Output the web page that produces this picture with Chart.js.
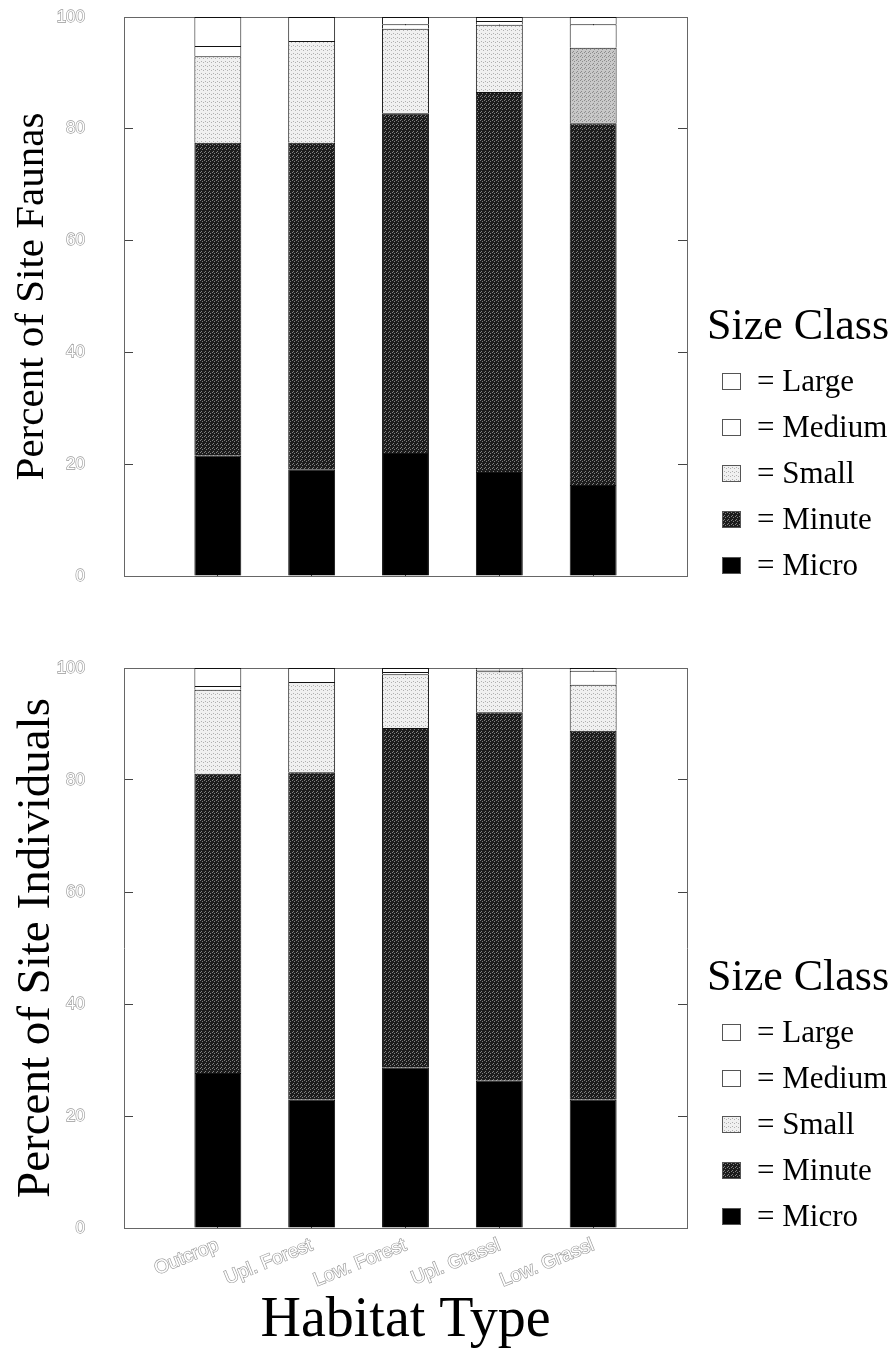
<!DOCTYPE html>
<html>
<head>
<meta charset="utf-8">
<script src="https://cdn.jsdelivr.net/npm/chart.js@4.4.0/dist/chart.umd.min.js"></script>
<style>
  html, body { margin: 0; padding: 0; background: #fff; }
  #page { position: relative; width: 896px; height: 1361px; overflow: hidden; }
  .wrap { position: absolute; left: 0; width: 896px; }
  .legend { position: absolute; left: 707px; font-family: 'Liberation Serif', 'Times New Roman', serif; color: #000; }
  .legend .title { font-size: 44px; line-height: 50px; height: 50px; margin-bottom: 8px; white-space: nowrap; }
  .legend .item { display: flex; align-items: center; height: 46px; margin-left: 15px; font-size: 31px; white-space: nowrap; }
  .legend .box { width: 19px; height: 17px; border: 1px solid #555; box-sizing: border-box; margin-right: 16px; }
</style>
</head>
<body>
<div id="page">
  <div class="wrap" style="top:0;height:600px"><canvas id="faunaChart" width="896" height="600"></canvas></div>
  <div class="wrap" style="top:620px;height:741px"><canvas id="indivChart" width="896" height="741"></canvas></div>
  <div class="legend" id="faunaLegend" style="top:300px"></div>
  <div class="legend" id="indivLegend" style="top:951px"></div>
</div>
<script>
const categories = ['Outcrop', 'Upl. Forest', 'Low. Forest', 'Upl. Grassl', 'Low. Grassl'];
const sizeClasses = ['Micro', 'Minute', 'Small', 'Medium', 'Large'];
const yTicks = [0, 20, 40, 60, 80, 100];

// Percent of Site Faunas
const faunaMicro  = [21.5, 19.1, 22.0, 18.6, 16.3];
const faunaMinute = [56.0, 58.4, 60.8, 68.0, 64.7];
const faunaSmall  = [15.5, 18.2, 15.1, 12.0, 13.5];
const faunaMedium = [1.8, 0.0, 0.8, 0.7, 4.2];
const faunaLarge  = [5.2, 4.3, 1.3, 0.7, 1.3];

// Percent of Site Individuals
const indivMicro  = [27.7, 22.9, 28.6, 26.3, 22.9];
const indivMinute = [53.4, 58.5, 60.7, 65.8, 65.9];
const indivSmall  = [15.0, 16.1, 9.6, 7.3, 8.2];
const indivMedium = [0.7, 0.0, 0.4, 0.3, 2.5];
const indivLarge  = [3.2, 2.5, 0.7, 0.3, 0.5];

const xTickFont = { family: "'Liberation Sans', Arial, sans-serif", size: 19 };
const yTickFont = { family: "'Liberation Sans', Arial, sans-serif", size: 17 };
const serif = "'Liberation Serif', 'Times New Roman', serif";

// small stipple tiles, like the printed screen tones
function tile(base, dot, dots) {
  const c = document.createElement('canvas');
  c.width = c.height = 4;
  const g = c.getContext('2d');
  g.fillStyle = base;
  g.fillRect(0, 0, 4, 4);
  g.fillStyle = dot;
  dots.forEach(([x, y]) => g.fillRect(x, y, 1, 1));
  return c;
}
const tiles = [
  tile('#000', '#000', []),                                   // Micro
  tile('#1c1c1c', '#808080', [[0, 0], [2, 1], [1, 3]]),       // Minute
  tile('#f0f0f0', '#b0b0b0', [[1, 1], [3, 2]]),               // Small
  tile('#fff', '#fff', []),                                   // Medium
  tile('#fff', '#fff', [])                                    // Large
];
const darkSmallTile = tile('#c8c8c8', '#8c8c8c', [[0, 0], [2, 1], [1, 3]]);

function buildLegend(chart, id) {
  const el = document.getElementById(id);
  let html = '<div class="title">Size Class</div>';
  chart.data.datasets.map((ds, k) => ({ ds, k })).reverse().forEach(({ ds, k }) => {
    html += '<div class="item"><span class="box" style="background-image:url(' + tiles[k].toDataURL() + ')"></span>= ' + ds.label + '</div>';
  });
  el.innerHTML = html;
}

function makeChart(id, series, yTitle, yTitleSize, showX, darkSmallAt) {
  const ctx = document.getElementById(id);
  const g = ctx.getContext('2d');
  const pats = tiles.map(t => g.createPattern(t, 'repeat'));
  const darkSmall = g.createPattern(darkSmallTile, 'repeat');

  const datasets = sizeClasses.map((name, k) => ({
    label: name,
    data: series[k].map((v, i) => ({ x: i + 1, y: v })),
    backgroundColor: c => (name === 'Small' && c.dataIndex === darkSmallAt) ? darkSmall : pats[k],
    borderColor: '#111',
    borderWidth: 1,
    categoryPercentage: 0.5,
    barPercentage: 1
  }));

  const frame = { color: '#666', width: 1 };
  const ticksGrid = { drawOnChartArea: false, offset: false, tickLength: -9, color: '#444' };

  return new Chart(ctx, {
    type: 'bar',
    data: { datasets },
    options: {
      responsive: false,
      animation: false,
      layout: { padding: showX ? { left: 4, right: 209, top: 48, bottom: 0 } : { left: 4, right: 209, top: 17, bottom: 24 } },
      plugins: { legend: { display: false }, tooltip: { enabled: false } },
      scales: {
        x: {
          type: 'linear', min: 0, max: 6, offset: false, stacked: true, z: 1,
          border: frame, grid: ticksGrid,
          ticks: {
            stepSize: 1, autoSkip: false, display: showX,
            minRotation: 22, maxRotation: 22, padding: 15,
            font: xTickFont, color: '#fff', textStrokeColor: '#999', textStrokeWidth: 1.3,
            callback: v => categories[v - 1] || ''
          },
          title: {
            display: showX, text: 'Habitat Type', color: '#000',
            font: { family: serif, size: 56 }, padding: { top: 0, bottom: 6 }
          },
          afterFit: s => { s.height = showX ? 133 : 0; s.paddingLeft = 0; s.paddingRight = 0; }
        },
        x2: {
          type: 'linear', position: 'top', min: 0, max: 6, offset: false, z: 1,
          border: frame, grid: ticksGrid,
          ticks: { stepSize: 1, display: false },
          afterFit: s => { s.height = 0; }
        },
        y: {
          min: 0, max: 100, stacked: true, z: 1,
          border: frame, grid: ticksGrid,
          afterBuildTicks: s => { s.ticks = yTicks.map(v => ({ value: v })); },
          ticks: {
            padding: 48, font: yTickFont,
            color: '#fff', textStrokeColor: '#999', textStrokeWidth: 1.3
          },
          title: {
            display: true, text: yTitle, color: '#000',
            font: { family: serif, size: yTitleSize }, padding: { top: 4, bottom: 0 }
          },
          afterFit: s => { s.width = 120; s.paddingTop = 0; s.paddingBottom = 0; }
        },
        y2: {
          position: 'right', min: 0, max: 100, z: 1,
          border: frame, grid: ticksGrid,
          afterBuildTicks: s => { s.ticks = yTicks.map(v => ({ value: v })); },
          ticks: { display: false },
          afterFit: s => { s.width = 0; s.paddingTop = 0; s.paddingBottom = 0; }
        }
      }
    }
  });
}

const faunaChart = makeChart('faunaChart',
  [faunaMicro, faunaMinute, faunaSmall, faunaMedium, faunaLarge], 'Percent of Site Faunas', 41, false, 4);
const indivChart = makeChart('indivChart',
  [indivMicro, indivMinute, indivSmall, indivMedium, indivLarge], 'Percent of Site Individuals', 47, true, -1);

buildLegend(faunaChart, 'faunaLegend');
buildLegend(indivChart, 'indivLegend');
</script>
</body>
</html>
